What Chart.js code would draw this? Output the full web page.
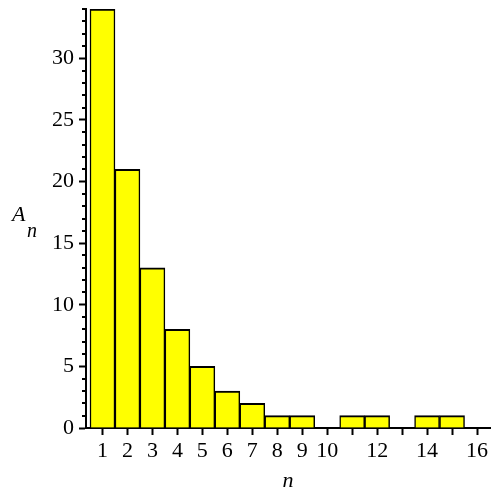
<!DOCTYPE html>
<html><head><meta charset="utf-8">
<script src="https://cdn.jsdelivr.net/npm/chart.js@4"></script>
<style>html,body{margin:0;padding:0;background:#fff}</style>
</head><body>
<canvas id="c" width="500" height="500"></canvas>
<script>
// data
const nValues = [1,2,3,4,5,6,7,8,9,10,11,12,13,14,15];
const counts  = [34,21,13,8,5,3,2,1,1,0,1,1,0,1,1];
const xTickLabels = [1,2,3,4,5,6,7,8,9,10,12,14,16];
const yLabelStep = 5;
const xTitle = 'n';
const yTitleMain = 'A';
const yTitleSub = 'n';

const FONT = "'Liberation Serif', 'Times New Roman', serif";

const minorTicks = {
  id: 'minorTicks',
  afterDraw(chart) {
    const ctx = chart.ctx;
    const y = chart.scales.y;
    const left = chart.chartArea.left;
    ctx.save();
    ctx.strokeStyle = '#000';
    ctx.lineWidth = 2;
    y.ticks.forEach(t => {
      if (t.value % yLabelStep !== 0) {
        const py = Math.round(y.getPixelForValue(t.value));
        ctx.beginPath();
        ctx.moveTo(left - 4, py);
        ctx.lineTo(left, py);
        ctx.stroke();
      }
    });
    ctx.fillStyle = '#000';
    ctx.textBaseline = 'alphabetic';
    ctx.textAlign = 'left';
    ctx.font = "italic 22px " + FONT;
    ctx.fillText(yTitleMain, 12, 221);
    ctx.font = "italic 20px " + FONT;
    ctx.fillText(yTitleSub, 27, 237);
    ctx.font = "italic 22px " + FONT;
    ctx.textAlign = 'center';
    ctx.fillText(xTitle, 288, 487);
    ctx.restore();
  }
};

new Chart(document.getElementById('c'), {
  type: 'bar',
  data: {
    datasets: [{
      data: nValues.map((n, i) => ({x: n, y: counts[i]})),
      backgroundColor: '#ffff00',
      borderColor: '#000',
      borderWidth: {top: 2, left: 1.5, right: 1.5, bottom: 0},
      borderSkipped: 'start',
      barPercentage: 1,
      categoryPercentage: 1
    }]
  },
  options: {
    responsive: false,
    animation: false,
    events: [],
    layout: {padding: {top: 9, right: 10, left: 0, bottom: 0}},
    plugins: {legend: {display: false}, tooltip: {enabled: false}, title: {display: false}},
    scales: {
      x: {
        type: 'linear',
        offset: false,
        min: 0.34, max: 16.52,
        z: 1,
        afterFit(s) { s.height = 72; s.paddingLeft = 0; s.paddingRight = 0; },
        grid: {display: true, offset: false, drawOnChartArea: false, drawTicks: true, tickLength: 7, tickWidth: 2, tickColor: '#000', color: '#000'},
        border: {display: true, color: '#000', width: 2},
        ticks: {
          stepSize: 1, includeBounds: false, autoSkip: false, maxRotation: 0, padding: 3,
          color: '#000', font: {family: FONT, size: 22},
          callback: v => xTickLabels.includes(v) ? String(v) : ''
        }
      },
      y: {
        min: 0, max: 34,
        z: 1,
        afterFit(s) { s.width = 86; s.paddingTop = 0; s.paddingBottom = 0; },
        grid: {display: true, drawOnChartArea: false, drawTicks: true, tickLength: 7, tickWidth: 2,
               tickColor: c => (c.tick && c.tick.value % yLabelStep === 0) ? '#000' : 'rgba(0,0,0,0)', color: '#000'},
        border: {display: true, color: '#000', width: 2},
        ticks: {
          stepSize: 1, autoSkip: false, maxTicksLimit: 100, padding: 5, includeBounds: false,
          color: '#000', font: {family: FONT, size: 22},
          callback: v => v % yLabelStep === 0 ? String(v) : ''
        }
      }
    }
  },
  plugins: [minorTicks]
});
</script>
</body></html>
